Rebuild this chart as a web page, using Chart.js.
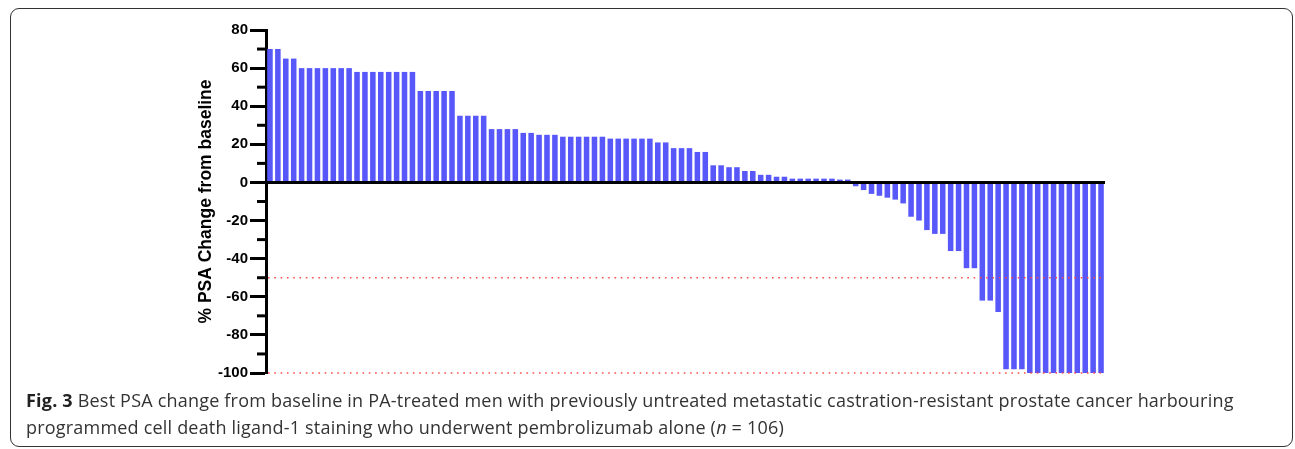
<!DOCTYPE html>
<html>
<head>
<meta charset="utf-8">
<script src="https://cdn.jsdelivr.net/npm/chart.js@4.4.0/dist/chart.umd.min.js"></script>
<style>
  html, body { margin: 0; padding: 0; background: #fff; }
  body { width: 1295px; height: 449px; position: relative; overflow: hidden; }
  #frame {
    position: absolute; left: 10px; top: 8px; width: 1283px; height: 439px;
    border: 1.3px solid #333; border-radius: 9px; box-sizing: border-box;
  }
  #wrap { position: absolute; left: 0; top: 0; width: 1295px; height: 390px; }
  #caption {
    position: absolute; left: 26px; top: 387px; width: 1262px; white-space: nowrap;
    font-family: "Open Sans", sans-serif; font-size: 18px; line-height: 27px;
    letter-spacing: 0.2px; color: #333;
  }
  #caption b { color: #222; }
</style>
</head>
<body>
<div id="frame"></div>
<div id="wrap"><canvas id="psa" width="1295" height="390"></canvas></div>
<div id="caption"><b>Fig. 3</b> Best PSA change from baseline in PA-treated men with previously untreated metastatic castration-resistant prostate cancer harbouring<br>programmed cell death ligand-1 staining who underwent pembrolizumab alone (<i>n</i> = 106)</div>
<script>
// Best % PSA change from baseline, one value per patient (waterfall order)
const psaChange = [
  70, 70, 65, 65,
  60, 60, 60, 60, 60, 60, 60,
  58, 58, 58, 58, 58, 58, 58, 58,
  48, 48, 48, 48, 48,
  35, 35, 35, 35,
  28, 28, 28, 28,
  26, 26,
  25, 25, 25,
  24, 24, 24, 24, 24, 24,
  23, 23, 23, 23, 23, 23,
  21, 21,
  18, 18, 18,
  16, 16,
  9, 9, 8, 8, 6, 6, 4, 4, 3, 3,
  2, 2, 2, 2, 2, 2,
  1.5, 1.5,
  -2, -4, -6, -7, -8, -9, -11, -18, -20, -25, -27, -27,
  -36, -36, -45, -45, -62, -62, -68, -98, -98, -98,
  -100, -100, -100, -100, -100, -100, -100, -100, -100, -100
];
const patients = psaChange.map((_, i) => i + 1);

const yMajorTicks = [80, 60, 40, 20, 0, -20, -40, -60, -80, -100];
const yMinorTicks = [70, 50, 30, 10, -10, -30, -50, -70, -90];
// dotted response thresholds
const responseLines = [-50, -100];

// zero line, minor ticks and dotted thresholds, drawn with the y scale
const waterfallLines = {
  id: "waterfallLines",
  afterDatasetsDraw(chart) {
    const { ctx, chartArea, scales } = chart;
    const y = scales.y;
    ctx.save();

    ctx.strokeStyle = "#000";
    ctx.lineWidth = 3;
    yMinorTicks.forEach((v) => {
      const py = y.getPixelForValue(v);
      ctx.beginPath();
      ctx.moveTo(chartArea.left - 9, py);
      ctx.lineTo(chartArea.left, py);
      ctx.stroke();
    });

    const zy = y.getPixelForValue(0);
    ctx.beginPath();
    ctx.moveTo(chartArea.left, zy);
    ctx.lineTo(chartArea.right, zy);
    ctx.stroke();

    ctx.strokeStyle = "rgba(255, 70, 70, 0.95)";
    ctx.lineWidth = 1.6;
    ctx.setLineDash([1.6, 4.7]);
    responseLines.forEach((v) => {
      const py = y.getPixelForValue(v);
      ctx.beginPath();
      ctx.moveTo(chartArea.left + 2, py);
      ctx.lineTo(chartArea.right - 4, py);
      ctx.stroke();
    });
    ctx.restore();
  },
};

const ctx = document.getElementById("psa").getContext("2d");

new Chart(ctx, {
  type: "bar",
  plugins: [waterfallLines],
  data: {
    labels: patients,
    datasets: [{
      data: psaChange,
      backgroundColor: "#5858fa",
      borderWidth: 0,
      categoryPercentage: 1,
      barPercentage: 0.7,
    }],
  },
  options: {
    responsive: false,
    animation: false,
    devicePixelRatio: 1,
    layout: { padding: { left: 0, right: 190, top: 30, bottom: 17 } },
    plugins: { legend: { display: false }, tooltip: { enabled: false } },
    scales: {
      x: { display: false },
      y: {
        min: -100,
        max: 80,
        afterBuildTicks: (scale) => {
          scale.ticks = yMajorTicks.map((v) => ({ value: v }));
        },
        afterFit: (scale) => { scale.width = 266; },
        border: { display: true, color: "#000", width: 3 },
        grid: {
          drawOnChartArea: false,
          drawTicks: true,
          tickLength: 16,
          tickWidth: 3,
          tickColor: "#000",
        },
        ticks: {
          padding: 2,
          color: "#000",
          font: { family: "Liberation Sans", size: 15, weight: "bold" },
        },
        title: {
          display: true,
          text: "% PSA Change from baseline",
          color: "#000",
          padding: { top: 196, bottom: 0 },
          font: { family: "Liberation Sans", size: 17.5, weight: "bold" },
        },
      },
    },
  },
});
</script>
</body>
</html>
